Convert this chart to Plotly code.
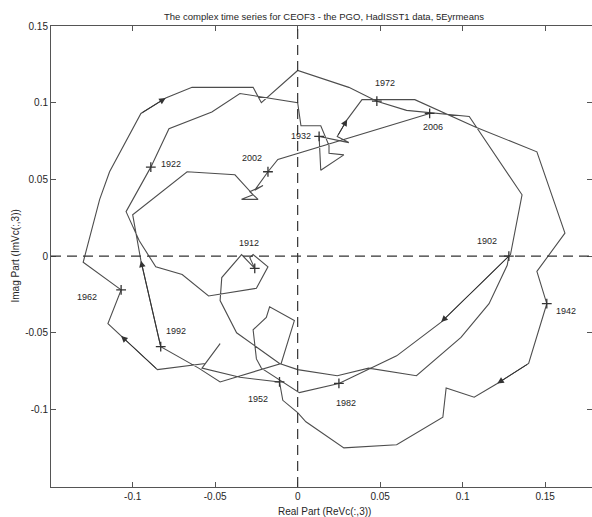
import plotly.graph_objects as go

# Complex time series (real part, imaginary part), 1902 -> 2006
real_part = [
    0.128, 0.127, 0.116, 0.099, 0.072, 0.043, 0.024, 0.000, -0.011, -0.037,
    -0.047, -0.046, -0.034, -0.026, -0.029, -0.027, -0.018, -0.025, -0.054, -0.070,
    -0.086, -0.096, -0.104, -0.089, -0.078, -0.052, -0.035, 0.000, 0.002, 0.014,
    0.019, 0.019, 0.028, 0.014, 0.013, 0.031, 0.024, 0.030, 0.039, 0.071,
    0.108, 0.145, 0.162, 0.145, 0.151, 0.140, 0.121, 0.107, 0.090, 0.088,
    0.060, 0.028, 0.005, 0.000, -0.009, -0.011, -0.035, -0.058, -0.047, -0.056,
    -0.085, -0.107, -0.115, -0.107, -0.130, -0.120, -0.114, -0.095, -0.080, -0.064,
    -0.027, -0.022, 0.000, 0.031, 0.048, 0.066, 0.104, 0.136, 0.129, 0.087,
    0.060, 0.025, 0.001, -0.022, -0.025, -0.027, -0.019, -0.017, -0.002, -0.010,
    -0.035, -0.047, -0.060, -0.083, -0.095, -0.100, -0.067, -0.038, -0.027, -0.034,
    -0.024, -0.029, -0.021, -0.026, -0.018, -0.012, 0.080,
]
imag_part = [
    0.000, -0.006, -0.031, -0.053, -0.078, -0.073, -0.078, -0.074, -0.070, -0.050,
    -0.029, -0.014, 0.001, -0.008, -0.001, 0.001, -0.007, -0.021, -0.026, -0.012,
    -0.007, 0.010, 0.029, 0.058, 0.083, 0.094, 0.106, 0.100, 0.085, 0.085,
    0.072, 0.067, 0.066, 0.056, 0.078, 0.074, 0.078, 0.089, 0.102, 0.102,
    0.084, 0.068, 0.015, -0.010, -0.031, -0.070, -0.083, -0.092, -0.086, -0.105,
    -0.123, -0.125, -0.108, -0.102, -0.094, -0.082, -0.079, -0.073, -0.057, -0.070,
    -0.074, -0.052, -0.044, -0.022, -0.004, 0.037, 0.055, 0.093, 0.103, 0.110,
    0.110, 0.100, 0.121, 0.110, 0.101, 0.095, 0.091, 0.040, 0.001, -0.043,
    -0.065, -0.083, -0.089, -0.073, -0.067, -0.048, -0.040, -0.033, -0.042, -0.070,
    -0.078, -0.082, -0.073, -0.059, -0.003, 0.027, 0.055, 0.053, 0.040, 0.037,
    0.037, 0.042, 0.046, 0.043, 0.055, 0.063, 0.093,
]

label_years = [1902, 1912, 1922, 1932, 1942, 1952, 1962, 1972, 1982, 1992, 2002, 2006]
label_index = [0, 13, 23, 34, 44, 55, 63, 74, 81, 93, 104, 106]
arrow_index = [37, 46, 61, 68, 79, 94]

x_ticks = [-0.1, -0.05, 0, 0.05, 0.1, 0.15]
x_tick_text = ["-0.1", "-0.05", "0", "0.05", "0.1", "0.15"]
y_ticks = [-0.1, -0.05, 0, 0.05, 0.1, 0.15]
y_tick_text = ["-0.1", "-0.05", "0", "0.05", "0.1", "0.15"]

# label placement offsets (pixels) relative to the marked point
label_shift = [(-22, 15), (-6, 25), (20, 3), (-18, 0), (19, -7), (-22, -17),
               (-34, -7), (8, 18), (7, -20), (15, 16), (-16, 14), (3, -14)]

FONT = "Liberation Sans, Arial, sans-serif"
LINE_C = "#4d4d4d"
TXT_C = "#262626"

fig = go.Figure()
fig.add_trace(go.Scatter(x=real_part, y=imag_part, mode="lines",
                         line=dict(color=LINE_C, width=1.1), showlegend=False,
                         hoverinfo="skip"))
fig.add_trace(go.Scatter(x=[real_part[i] for i in label_index],
                         y=[imag_part[i] for i in label_index],
                         mode="markers",
                         marker=dict(symbol="cross-thin", size=7,
                                     line=dict(color="#333333", width=1.3)),
                         showlegend=False, hoverinfo="skip"))
# invisible trace to activate right-side ticks
fig.add_trace(go.Scatter(x=[real_part[0]], y=[imag_part[0]], yaxis="y2",
                         mode="markers", marker=dict(opacity=0),
                         showlegend=False, hoverinfo="skip"))

annotations = []
for yr, idx, (dx, dy) in zip(label_years, label_index, label_shift):
    annotations.append(dict(x=real_part[idx], y=imag_part[idx], text=str(yr),
                            showarrow=False, xshift=dx, yshift=dy,
                            font=dict(family=FONT, size=9, color=TXT_C)))
for idx in arrow_index:
    annotations.append(dict(x=real_part[idx], y=imag_part[idx],
                            ax=real_part[idx - 1], ay=imag_part[idx - 1],
                            axref="x", ayref="y", xref="x", yref="y",
                            text="", showarrow=True, arrowhead=2, arrowsize=1.3,
                            arrowwidth=1, arrowcolor="#333333", standoff=0,
                            startstandoff=0))

annotations.append(dict(text="The complex time series for CEOF3 - the PGO, HadISST1 data, 5Eyrmeans",
                        xref="paper", yref="paper", x=0.505, y=1.02,
                        xanchor="center", yanchor="middle", showarrow=False,
                        font=dict(family=FONT, size=9.5, color=TXT_C)))
annotations.append(dict(text="Real Part (ReVc(:,3))", xref="paper", yref="paper",
                        x=0.505, y=-0.053, xanchor="center", yanchor="middle",
                        showarrow=False, font=dict(family=FONT, size=10, color=TXT_C)))
annotations.append(dict(text="Imag Part (ImVc(:,3))", xref="paper", yref="paper",
                        x=-0.0665, y=0.5, xanchor="center", yanchor="middle",
                        textangle=-90, showarrow=False,
                        font=dict(family=FONT, size=10, color=TXT_C)))

shapes = [
    dict(type="line", xref="x", yref="paper", x0=0, x1=0, y0=0, y1=1,
         line=dict(color="#333333", width=1.2, dash="10px,6px")),
    dict(type="line", xref="paper", yref="y", x0=0, x1=1, y0=0, y1=0,
         line=dict(color="#333333", width=1.2, dash="10px,6px")),
]

axis_common = dict(showgrid=False, zeroline=False, ticks="inside", ticklen=5,
                   tickcolor="#555555", showline=True, linecolor="#555555",
                   linewidth=1, tickfont=dict(family=FONT, size=10, color=TXT_C))

fig.update_layout(
    width=592, height=517,
    margin=dict(l=51, r=0, t=26, b=30),
    paper_bgcolor="white", plot_bgcolor="white",
    xaxis=dict(range=[-0.1495, 0.1784], tickvals=x_ticks, ticktext=x_tick_text,
               mirror="ticks", **axis_common),
    yaxis=dict(range=[-0.1505, 0.15], tickvals=y_ticks, ticktext=y_tick_text,
               **axis_common),
    yaxis2=dict(range=[-0.1505, 0.15], tickvals=y_ticks, overlaying="y",
                side="right", showgrid=False, zeroline=False, ticks="inside",
                ticklen=5, tickcolor="#555555", showline=False,
                showticklabels=False),
    annotations=annotations,
    shapes=shapes,
    showlegend=False,
)

fig.write_html("out.html")
